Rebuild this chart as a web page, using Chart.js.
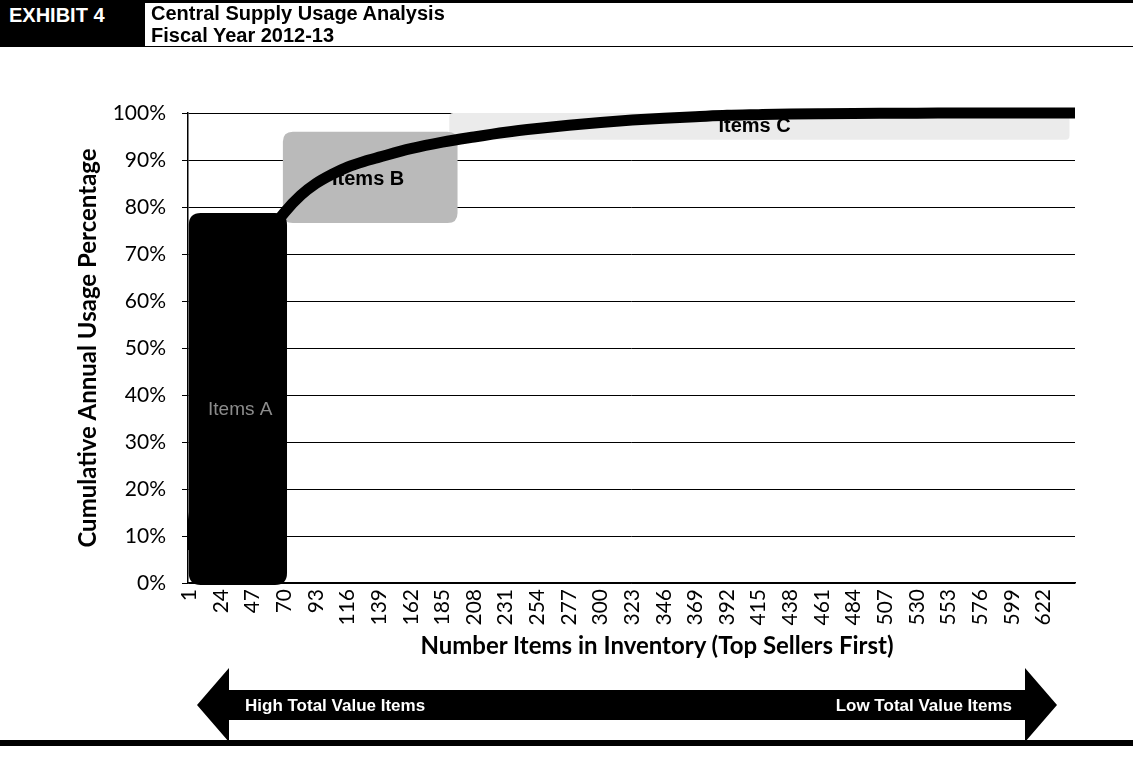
<!DOCTYPE html>
<html>
<head>
<meta charset="utf-8">
<script src="https://cdn.jsdelivr.net/npm/chart.js@4.4.0/dist/chart.umd.min.js"></script>
<style>
  body { margin: 0; background: #fff; }
  #page { position: relative; width: 1133px; height: 762px; overflow: hidden; }
  #usageChart { position: absolute; left: 0; top: 0; }
  .bar { position: absolute; left: 0; width: 1133px; background: #000; }
  #exhibit { position: absolute; left: 0; top: 0; width: 145px; height: 46px; background: #000; color: #fff;
             font: bold 20px "Liberation Sans", Arial, sans-serif; line-height: 30px; padding-left: 9px; box-sizing: border-box; }
  #title { position: absolute; left: 151px; top: 2px; font: bold 20px "Liberation Sans", Arial, sans-serif; line-height: 22px; color: #000; }
  #xTitle { position: absolute; left: 657px; top: 630px; transform: translateX(-50%); white-space: nowrap;
            font: bold 24px Lato, sans-serif; color: #000; }
  #arrow { position: absolute; left: 0; top: 660px; }
</style>
</head>
<body>
<div id="page">
  <canvas id="usageChart" width="1133" height="762"></canvas>
  <div class="bar" style="top:0;height:3px"></div>
  <div class="bar" style="top:46px;height:1px"></div>
  <div id="exhibit">EXHIBIT 4</div>
  <div id="title">Central Supply Usage Analysis<br>Fiscal Year 2012-13</div>
  <div id="xTitle">Number Items in Inventory (Top Sellers First)</div>
  <svg id="arrow" width="1133" height="90">
    <polygon points="197,45 229,8 229,30 1025,30 1025,8 1057,45 1025,82 1025,60 229,60 229,82" fill="#000"/>
    <text x="245" y="51" fill="#fff" font-family="Liberation Sans, Arial" font-weight="bold" font-size="17">High Total Value Items</text>
    <text x="1012" y="51" fill="#fff" font-family="Liberation Sans, Arial" font-weight="bold" font-size="17" text-anchor="end">Low Total Value Items</text>
  </svg>
  <div class="bar" style="top:740px;height:6px"></div>
</div>
<script>
// item rank (top sellers first) and cumulative share of annual usage
const itemNumbers = [1, 12, 24, 36, 47, 58, 70, 82, 93, 105, 116, 128, 139, 162, 185, 208, 231, 254,
                     277, 300, 323, 346, 369, 392, 415, 438, 461, 484, 507, 530, 553, 576, 599, 622, 645];
const usagePct = [7, 30, 48, 60, 68, 74, 78.8, 82.5, 85, 87, 88.5, 89.7, 90.6, 92.4, 93.8, 94.9, 95.9, 96.7,
                  97.4, 98.0, 98.5, 98.9, 99.2, 99.5, 99.65, 99.78, 99.86, 99.92, 99.95, 99.97, 99.98, 99.99, 100, 100, 100];
const xTickLabels = [1, 24, 47, 70, 93, 116, 139, 162, 185, 208, 231, 254, 277, 300, 323, 346, 369, 392,
                     415, 438, 461, 484, 507, 530, 553, 576, 599, 622];
const yTickLabels = [0, 10, 20, 30, 40, 50, 60, 70, 80, 90, 100];

// ABC group boxes, in item / percent units
const abcBoxes = [
  { label: 'Items C', from: 190, to: 641, low: 94.3, high: 100, tx: 412, ty: 97.2, layer: 'under',
    fill: '#ebebeb', color: '#000', font: 'bold 20px "Liberation Sans", Arial', textLayer: 'over', r: 4 },
  { label: 'Items B', from: 69, to: 196, low: 76.6, high: 96, tx: 131, ty: 85.8, layer: 'under',
    fill: '#bababa', color: '#000', font: 'bold 20px "Liberation Sans", Arial', textLayer: 'under', r: 10 },
  { label: 'Items A', from: 0.6, to: 72, low: -0.4, high: 78.7, tx: 38, ty: 36.8, layer: 'over',
    fill: '#000', color: '#8c8c8c', font: '19px "Liberation Sans", Arial', textLayer: 'over', r: 12 }
];

function roundedBox(ctx, x, y, w, h, r) {
  ctx.beginPath();
  ctx.moveTo(x + r, y);
  ctx.lineTo(x + w - r, y);
  ctx.quadraticCurveTo(x + w, y, x + w, y + r);
  ctx.lineTo(x + w, y + h - r);
  ctx.quadraticCurveTo(x + w, y + h, x + w - r, y + h);
  ctx.lineTo(x + r, y + h);
  ctx.quadraticCurveTo(x, y + h, x, y + h - r);
  ctx.lineTo(x, y + r);
  ctx.quadraticCurveTo(x, y, x + r, y);
  ctx.closePath();
}

function drawAbc(chart, layer) {
  const ctx = chart.ctx, xs = chart.scales.x, ys = chart.scales.y;
  ctx.save();
  abcBoxes.forEach(b => {
    if (b.layer === layer) {
      const x0 = xs.getPixelForValue(b.from), x1 = xs.getPixelForValue(b.to);
      const y0 = ys.getPixelForValue(b.high), y1 = ys.getPixelForValue(b.low);
      ctx.fillStyle = b.fill;
      roundedBox(ctx, x0, y0, x1 - x0, y1 - y0, b.r);
      ctx.fill();
    }
    if (b.textLayer === layer) {
      ctx.fillStyle = b.color;
      ctx.font = b.font;
      ctx.textAlign = 'center';
      ctx.textBaseline = 'middle';
      ctx.fillText(b.label, xs.getPixelForValue(b.tx), ys.getPixelForValue(b.ty));
    }
  });
  ctx.restore();
}

const abcPlugin = {
  id: 'abcBoxes',
  beforeDatasetsDraw(chart) { drawAbc(chart, 'under'); },
  afterDatasetsDraw(chart) { drawAbc(chart, 'over'); }
};

const ctx = document.getElementById('usageChart').getContext('2d');

new Chart(ctx, {
  type: 'line',
  data: {
    datasets: [{
      data: itemNumbers.map((n, i) => ({ x: n, y: usagePct[i] })),
      borderColor: '#000',
      borderWidth: 11,
      pointRadius: 0,
      cubicInterpolationMode: 'monotone',
      fill: false,
      clip: { left: 0, top: 8, right: 0, bottom: 0 }
    }]
  },
  options: {
    responsive: false,
    animation: false,
    layout: { padding: { left: 70, top: 113, right: 58, bottom: 100 } },
    plugins: { legend: { display: false }, tooltip: { enabled: false } },
    scales: {
      x: {
        type: 'linear',
        min: 0,
        max: 645,
        afterBuildTicks: s => { s.ticks = xTickLabels.map(v => ({ value: v })); },
        afterFit: s => { s.height = 79; },
        grid: { display: false, drawTicks: false },
        border: { color: '#000', width: 1.5 },
        ticks: {
          autoSkip: false, minRotation: 90, maxRotation: 90, padding: 6, color: '#000',
          font: { family: 'Lato', size: 21 }
        }
      },
      y: {
        min: 0,
        max: 100,
        afterBuildTicks: s => { s.ticks = yTickLabels.map(v => ({ value: v })); },
        afterFit: s => { s.width = 118; },
        grid: { color: '#000', lineWidth: 1, tickLength: 6 },
        border: { color: '#000', width: 1.5 },
        ticks: {
          padding: 16, color: '#000',
          font: { family: 'Lato', size: 21 },
          callback: v => v + '%'
        },
        title: {
          display: true,
          text: 'Cumulative Annual Usage Percentage',
          color: '#000',
          font: { family: 'Lato', size: 24, weight: 'bold' },
          padding: { top: 4, bottom: 0 }
        }
      }
    }
  },
  plugins: [abcPlugin]
});
</script>
</body>
</html>
